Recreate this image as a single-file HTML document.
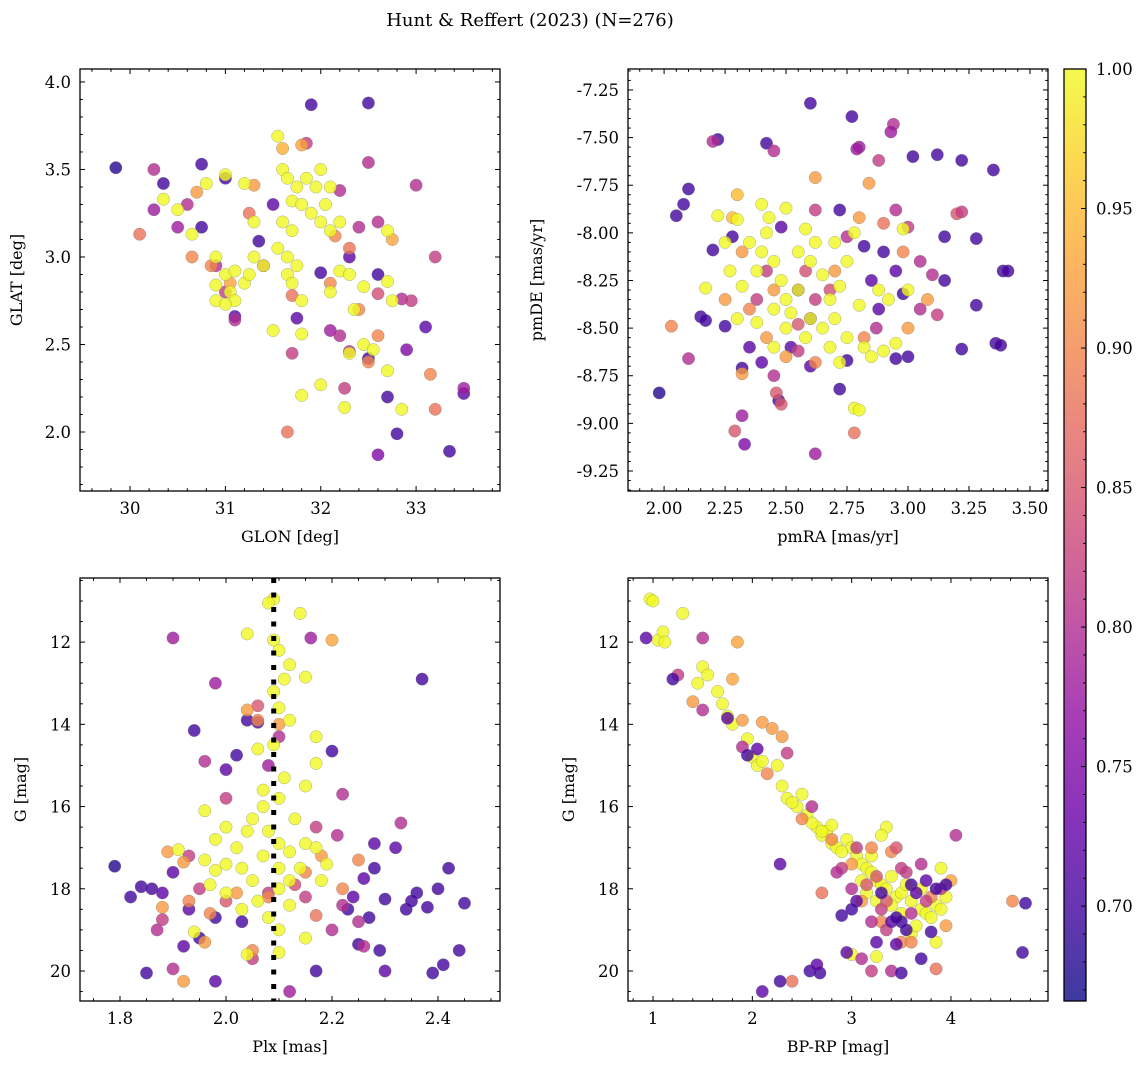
<!DOCTYPE html>
<html><head><meta charset="utf-8">
<style>
html,body{margin:0;padding:0;background:#fff;}
svg{display:block;font-family:"DejaVu Serif","Liberation Serif",serif;}
</style></head>
<body>
<svg id="fig" width="1148" height="1068" viewBox="0 0 1148 1068" xmlns="http://www.w3.org/2000/svg">
<text x="530" y="26" font-size="18" text-anchor="middle">Hunt &amp; Reffert (2023) (N=276)</text>
</svg>
<script>
// Panel 1: GLON vs GLAT
const p1x=[29.85,30.35,30.75,31.0,31.9,32.5,30.75,31.35,31.1,32.0,32.6,32.5,32.7,32.8,32.6,33.35,33.1,32.9,33.5,31.5,32.3,31.75,
30.25,30.25,30.5,30.6,31.85,32.5,32.2,33.0,32.4,32.6,31.1,31.0,32.2,32.3,32.25,32.85,32.95,32.6,31.7,33.2,33.5,31.4,32.1,30.9,
30.1,30.65,30.7,31.3,31.8,31.6,32.75,33.15,33.2,31.65,31.7,32.5,31.25,32.15,32.3,32.4,30.85,31.05,32.6,32.1,
31.55,31.6,31.65,31.75,31.85,31.95,32.0,31.7,31.8,31.9,32.0,32.1,31.6,31.7,31.55,31.65,31.75,31.65,31.7,31.8,31.8,31.5,31.8,32.0,32.25,32.85,30.35,30.5,30.8,31.0,31.2,30.65,30.9,31.0,31.05,31.1,30.9,31.1,31.2,31.3,31.25,31.4,32.1,32.2,32.3,32.35,32.45,32.45,32.3,32.55,32.7,32.75,32.7,32.7,32.05,32.1,32.2,30.9,31.0,31.3];
const p1y=[3.51,3.42,3.53,3.45,3.87,3.88,3.17,3.09,2.66,2.91,2.9,2.42,2.2,1.99,1.87,1.89,2.6,2.47,2.22,3.3,3.0,2.65,
3.5,3.27,3.17,3.3,3.65,3.54,3.38,3.41,3.17,3.2,2.64,2.8,2.55,2.46,2.25,2.76,2.75,2.79,2.45,3.0,2.25,2.95,2.58,2.95,
3.13,3.0,3.37,3.41,3.64,3.62,3.1,2.33,2.13,2.0,2.78,2.4,3.25,3.12,3.05,2.7,2.95,2.85,2.55,2.85,
3.69,3.5,3.45,3.4,3.45,3.4,3.5,3.32,3.3,3.25,3.2,3.15,3.2,3.15,3.05,3.0,2.95,2.9,2.85,2.75,2.56,2.58,2.21,2.27,2.14,2.13,3.33,3.27,3.42,3.47,3.42,3.13,3.0,2.9,2.8,2.75,2.75,2.92,2.85,3.0,2.9,2.95,2.8,2.92,2.9,2.7,2.83,2.5,2.45,2.47,2.35,2.75,2.86,3.15,3.3,3.4,3.2,2.84,2.73,3.2];
const p1c=[.68,.7,.7,.7,.7,.7,.7,.7,.72,.7,.7,.7,.7,.7,.75,.7,.72,.75,.72,.72,.72,.72,
.8,.78,.78,.8,.82,.8,.8,.8,.8,.8,.8,.82,.8,.8,.82,.8,.82,.84,.82,.82,.78,.8,.78,.8,
.88,.9,.92,.92,.93,.94,.93,.9,.88,.88,.88,.9,.88,.9,.88,.9,.9,.93,.9,.9,
1,1,1,1,1,1,1,1,1,1,1,1,1,1,1,1,1,1,1,1,1,1,1,1,1,1,1,1,1,1,1,1,1,1,1,1,1,1,1,1,1,1,1,1,1,1,1,1,1,1,1,1,1,1,1,1,1,1,1,1];
// Panel 2: pmRA vs pmDE
const p2x=[1.98,2.05,2.1,2.22,2.08,2.2,2.15,2.17,2.28,2.25,2.32,2.42,2.47,2.6,2.77,2.72,2.82,2.9,2.98,3.02,3.12,3.22,3.35,3.39,3.41,3.28,3.28,3.22,3.36,3.38,3.15,3.15,3.0,2.95,2.72,2.75,2.55,2.6,2.52,2.48,2.85,2.88,2.95,2.4,2.35,2.6,
2.2,2.1,2.32,2.33,2.62,2.45,2.94,2.93,2.8,2.79,2.62,2.75,2.88,2.95,3.0,3.05,3.1,3.12,3.2,3.22,2.48,2.46,2.55,2.58,2.42,2.38,2.55,2.62,2.68,2.87,3.05,2.45,2.29,
2.03,2.32,2.62,2.84,2.8,2.78,2.82,2.62,2.5,2.42,2.35,2.45,2.32,2.3,2.28,3.0,2.98,2.7,2.9,3.08,2.25,
2.17,2.22,2.27,2.3,2.35,2.38,2.4,2.42,2.43,2.45,2.48,2.5,2.52,2.55,2.58,2.6,2.62,2.65,2.68,2.7,2.72,2.75,2.78,2.8,2.82,2.85,2.9,2.95,2.98,2.78,2.8,2.75,2.65,2.5,2.45,2.38,2.3,2.32,2.25,2.55,2.6,2.7,2.88,2.92,3.0,2.45,2.58,2.68,2.72,2.4,2.5];
const p2y=[-8.84,-7.91,-7.77,-7.51,-7.85,-8.09,-8.44,-8.46,-8.02,-8.49,-8.71,-7.53,-8.88,-7.32,-7.39,-7.88,-8.07,-8.1,-8.32,-7.6,-7.59,-7.62,-7.67,-8.2,-8.2,-8.03,-8.38,-8.61,-8.58,-8.59,-8.02,-8.25,-8.65,-8.66,-8.82,-8.67,-8.3,-8.45,-8.6,-7.97,-8.25,-8.4,-8.2,-8.68,-8.6,-8.7,
-7.52,-8.66,-8.96,-9.11,-9.16,-7.57,-7.43,-7.47,-7.55,-7.56,-7.88,-8.02,-7.62,-7.88,-7.97,-8.15,-8.22,-8.43,-7.9,-7.89,-8.9,-8.84,-8.62,-8.2,-8.2,-8.35,-8.48,-8.35,-8.3,-8.5,-8.4,-8.75,-9.04,
-8.49,-8.74,-7.71,-7.74,-7.92,-9.05,-8.55,-8.68,-8.65,-8.55,-8.4,-8.3,-8.1,-7.8,-7.92,-8.5,-8.1,-8.2,-7.95,-8.35,-8.35,
-8.29,-7.91,-8.2,-7.93,-8.05,-8.2,-8.1,-8.0,-7.92,-8.15,-8.25,-8.35,-8.42,-8.1,-7.98,-8.15,-8.05,-8.22,-8.35,-8.45,-8.28,-8.15,-8.0,-8.38,-8.6,-8.65,-8.62,-8.58,-7.98,-8.92,-8.93,-8.55,-8.5,-8.5,-8.4,-8.47,-8.45,-8.28,-8.05,-8.3,-8.45,-8.05,-8.3,-8.35,-8.3,-8.6,-8.55,-8.6,-8.68,-7.85,-7.87];
const p2c=[.68,.7,.7,.7,.7,.7,.7,.7,.7,.7,.7,.7,.7,.7,.7,.7,.7,.7,.7,.7,.7,.7,.7,.7,.7,.7,.7,.7,.7,.7,.7,.7,.7,.7,.7,.7,.72,.72,.72,.72,.72,.72,.72,.72,.72,.72,
.8,.8,.78,.75,.78,.8,.8,.78,.78,.78,.82,.8,.82,.8,.82,.8,.8,.82,.85,.82,.85,.85,.82,.84,.82,.82,.85,.82,.84,.8,.8,.8,.85,
.9,.92,.92,.92,.92,.88,.9,.9,.92,.92,.9,.92,.92,.95,.95,.92,.9,.92,.88,.92,.92,
1,1,1,1,1,1,1,1,1,1,1,1,1,1,1,1,1,1,1,1,1,1,1,1,1,1,1,1,1,1,1,1,1,1,1,1,1,1,1,1,1,1,1,1,1,1,1,1,1,1,1];
// Panel 3: Plx vs G
const p3x=[1.79,1.82,1.84,1.86,1.85,1.92,1.95,1.98,1.98,2.0,2.02,2.04,2.06,2.03,2.17,2.2,2.23,2.25,2.27,2.29,2.3,2.28,2.32,2.34,2.35,2.36,2.37,2.38,2.4,2.41,2.42,2.44,2.45,2.39,2.26,2.24,2.3,2.28,1.94,1.9,1.88,1.93,
1.9,1.98,1.96,2.0,2.08,2.1,2.16,2.17,2.22,2.33,2.21,2.22,2.2,2.26,2.12,2.05,1.87,1.9,1.88,1.95,2.0,2.08,2.15,2.13,2.06,2.25,1.93,
1.92,2.04,2.06,2.2,2.1,2.18,2.22,2.25,2.17,2.02,1.97,1.92,1.89,1.88,1.96,2.05,2.08,2.15,1.93,
2.09,2.08,2.14,2.04,2.09,2.1,2.12,2.11,2.15,2.09,2.1,2.12,2.09,2.06,2.17,2.17,2.15,2.1,2.07,2.05,2.08,2.1,2.12,2.07,2.03,2.05,2.1,2.12,2.14,2.15,2.17,2.19,2.03,2.0,1.97,1.96,1.98,1.96,1.91,2.02,2.0,2.06,2.08,2.1,2.1,2.04,2.15,2.18,2.13,2.11,2.07,2.04,2.1,2.12,2.0,1.94,1.98];
const p3y=[17.45,18.2,17.95,18.0,20.05,19.4,19.2,20.25,18.7,15.1,14.75,13.9,13.95,18.8,20.0,14.65,18.5,19.35,18.7,19.5,20.0,17.5,17.0,18.5,18.3,18.1,12.9,18.45,18.0,19.85,17.5,19.5,18.35,20.05,17.75,18.2,18.25,16.9,14.15,17.6,18.1,18.5,
11.9,13.0,14.9,15.8,15.0,14.3,11.9,16.5,15.7,16.4,16.7,18.4,19.0,19.4,20.5,19.7,19.0,19.95,18.75,18.0,18.3,18.1,18.2,17.9,13.55,18.8,17.2,
20.25,13.65,13.9,11.95,14.0,17.2,18.0,17.3,18.65,18.1,18.6,17.35,17.1,18.45,19.3,19.5,18.2,17.6,18.3,
10.95,11.05,11.3,11.8,11.95,12.2,12.55,12.9,12.85,13.2,13.6,13.9,14.5,14.6,14.3,14.95,15.5,15.8,16.0,16.3,16.6,16.9,17.1,17.2,17.5,17.8,18.0,17.8,17.5,16.9,17.0,17.4,18.5,18.1,17.9,16.1,16.8,17.3,17.05,17.0,17.4,18.3,18.7,19.0,19.55,19.6,19.2,17.8,16.3,15.3,15.6,16.6,17.5,18.4,16.5,19.05,17.55];
const p3c=[.68,.7,.7,.7,.7,.72,.7,.72,.7,.72,.7,.7,.7,.7,.7,.7,.7,.7,.7,.7,.72,.7,.72,.7,.7,.7,.7,.7,.7,.7,.7,.7,.7,.7,.72,.72,.7,.72,.7,.72,.72,.72,
.78,.78,.8,.82,.78,.8,.78,.82,.8,.8,.8,.8,.8,.8,.78,.82,.8,.8,.82,.82,.85,.82,.82,.84,.85,.8,.82,
.92,.92,.9,.93,.92,.92,.9,.9,.88,.92,.9,.92,.92,.92,.92,.9,.9,.9,.9,
1,1,1,1,1,1,1,1,1,1,1,1,1,1,1,1,1,1,1,1,1,1,1,1,1,1,1,1,1,1,1,1,1,1,1,1,1,1,1,1,1,1,1,1,1,1,1,1,1,1,1,1,1,1,1,1,1];
const plxLine=2.09;
// Panel 4: BP-RP vs G
const p4x=[0.97,1.0,1.3,1.05,1.1,1.12,1.5,1.55,1.45,1.65,1.7,1.75,1.8,1.95,2.0,2.05,2.1,2.25,2.3,2.35,2.45,2.55,2.65,2.7,2.75,2.8,2.85,2.95,3.0,3.05,3.1,3.15,3.2,3.25,3.3,3.35,3.4,3.45,3.5,3.55,3.6,3.7,3.75,3.8,3.85,3.9,3.95,3.35,3.3,3.2,2.9,2.7,3.1,3.25,3.4,3.9,3.85,3.6,3.0,3.25,3.65,2.8,2.6,2.5,2.4,3.5,3.15,3.7,
1.4,1.85,1.8,1.9,2.1,2.2,2.3,2.15,2.5,2.7,2.8,3.0,3.2,3.3,3.5,3.8,3.95,4.0,4.62,2.4,3.6,3.85,3.1,3.4,
1.5,1.5,1.25,1.9,2.35,2.6,3.05,3.3,3.35,3.6,3.7,3.55,4.05,3.9,3.4,3.2,3.1,2.9,3.15,3.25,3.45,3.75,3.5,3.0,3.2,2.85,3.35,
0.93,1.2,1.75,1.95,2.05,2.28,2.28,2.1,2.58,2.68,2.65,2.95,3.5,3.45,3.25,3.4,3.5,3.55,3.7,3.8,3.75,3.6,3.95,3.05,3.0,2.9,4.75,4.72,3.85,3.3,3.65,3.45];
const p4y=[10.95,11.0,11.3,11.95,11.75,12.0,12.6,12.8,13.0,13.2,13.5,13.8,14.0,14.35,14.8,15.0,14.9,15.0,15.5,15.8,16.0,16.2,16.5,16.7,16.6,16.9,17.0,16.8,17.0,17.2,17.4,17.5,17.6,17.8,17.9,18.0,17.7,18.2,18.1,17.9,18.3,18.5,18.6,18.7,18.4,18.5,18.2,16.5,16.7,17.2,17.1,16.6,17.8,18.3,18.4,17.5,19.3,19.1,19.6,19.65,18.9,16.45,16.4,15.7,15.9,18.6,18.1,18.0,
13.45,12.0,12.9,13.9,13.95,14.1,14.3,15.2,16.3,18.1,16.8,17.4,17.0,18.8,19.3,18.2,18.9,17.8,18.3,20.25,19.3,19.95,18.3,17.1,
11.9,13.65,12.8,14.55,14.7,16.0,17.0,18.5,19.0,18.6,17.4,17.6,16.7,18.0,20.0,20.0,19.7,17.5,17.9,17.7,17.0,18.3,17.5,18.0,18.8,17.6,18.3,
11.9,12.9,13.85,14.75,14.6,17.4,20.25,20.5,20.0,20.05,19.85,19.55,20.05,19.35,19.3,18.8,18.8,19.0,19.7,19.05,17.8,17.9,17.9,18.3,18.5,18.65,18.35,19.55,18.0,18.1,18.1,18.7];
const p4c=[1,1,1,1,1,1,1,1,1,1,1,1,1,1,1,1,1,1,1,1,1,1,1,1,1,1,1,1,1,1,1,1,1,1,1,1,1,1,1,1,1,1,1,1,1,1,1,1,1,1,1,1,1,1,1,1,1,1,1,1,1,1,1,1,1,1,1,1,
.92,.93,.93,.92,.92,.92,.92,.9,.9,.88,.9,.92,.9,.9,.9,.9,.92,.93,.9,.88,.9,.88,.92,.9,
.8,.8,.82,.8,.82,.8,.82,.82,.82,.8,.8,.82,.8,.82,.8,.82,.8,.82,.85,.85,.85,.82,.82,.8,.8,.8,.85,
.72,.7,.72,.7,.72,.72,.7,.72,.7,.7,.72,.72,.7,.72,.72,.72,.7,.7,.7,.7,.72,.7,.7,.72,.7,.7,.7,.7,.7,.7,.72,.7];
const cbTicks=[0.70,0.75,0.80,0.85,0.90,0.95,1.00];
const vmin=0.666, vmax=1.0;

const NS='http://www.w3.org/2000/svg';
const svg=document.getElementById('fig');
function mk(tag,attrs,parent){const e=document.createElementNS(NS,tag);for(const k in attrs)e.setAttribute(k,attrs[k]);(parent||svg).appendChild(e);return e;}
const stops=[[13,8,135],[65,4,157],[106,0,168],[143,13,164],[177,42,144],[204,71,120],[225,100,98],[242,132,75],[252,166,54],[252,206,37],[240,249,33]];
function plasma(t){t=Math.max(0,Math.min(1,t));const f=t*10,i=Math.min(9,Math.floor(f)),r=f-i;const a=stops[i],b=stops[i+1];return 'rgb('+a.map((v,k)=>Math.round(v+(b[k]-v)*r)).join(',')+')';}
function col(v){return plasma((v-vmin)/(vmax-vmin));}

function panel(o){
  const {L,T,R,B,xmin,xmax,ymin,ymax,inv}=o;
  const sx=v=>L+(v-xmin)/(xmax-xmin)*(R-L);
  const sy=inv? v=>T+(v-ymin)/(ymax-ymin)*(B-T) : v=>B-(v-ymin)/(ymax-ymin)*(B-T);
  const g=mk('g',{});
  
  
  const cid='clip-'+o.name;
  const cp=mk('clipPath',{id:cid},g);mk('rect',{x:L,y:T,width:R-L,height:B-T},cp);
  const pts=mk('g',{'clip-path':'url(#'+cid+')'},g);
  
  
  for(let i=0;i<o.xs.length;i++){
    const c=mk('circle',{cx:sx(o.xs[i]).toFixed(1),cy:sy(o.ys[i]).toFixed(1),r:6.2,fill:col(o.cs[i]),'fill-opacity':0.8,stroke:'#777','stroke-opacity':0.6,'stroke-width':0.5},pts);
    
    
  }
  if(o.vline!==undefined){
    const l=mk('line',{x1:sx(o.vline),x2:sx(o.vline),y1:T,y2:B,stroke:'#000','stroke-width':5,'stroke-dasharray':'5,9.5'},pts);
    
    
  }
  const fr=mk('rect',{x:L,y:T,width:R-L,height:B-T,fill:'none',stroke:'#000','stroke-width':1.3},g);
  
  
  const eps=1e-9;
  const n0=Math.ceil(xmin/o.xmin_step-eps),n1=Math.floor(xmax/o.xmin_step+eps);
  for(let n=n0;n<=n1;n++){const v=n*o.xmin_step;const maj=Math.abs(v/o.xmaj-Math.round(v/o.xmaj))<1e-6;const len=maj?5:2.8;const x=sx(v);
    mk('line',{x1:x,x2:x,y1:B,y2:B-len,stroke:'#000','stroke-width':1},g);mk('line',{x1:x,x2:x,y1:T,y2:T+len,stroke:'#000','stroke-width':1},g);
    if(maj){const t=mk('text',{x:x,y:B+23,'font-size':16.5,'text-anchor':'middle'},g);t.textContent=v.toFixed(o.xdec);}}
  const m0=Math.ceil(ymin/o.ymin_step-eps),m1=Math.floor(ymax/o.ymin_step+eps);
  for(let n=m0;n<=m1;n++){const v=n*o.ymin_step;const maj=Math.abs(v/o.ymaj-Math.round(v/o.ymaj))<1e-6;const len=maj?5:2.8;const y=sy(v);
    mk('line',{x1:L,x2:L+len,y1:y,y2:y,stroke:'#000','stroke-width':1},g);mk('line',{x1:R,x2:R-len,y1:y,y2:y,stroke:'#000','stroke-width':1},g);
    if(maj){const t=mk('text',{x:L-9,y:y+6,'font-size':16.5,'text-anchor':'end'},g);t.textContent=(Math.abs(v)<1e-9?0:v).toFixed(o.ydec);}}
  const xt=mk('text',{x:(L+R)/2,y:B+51,'font-size':16,'text-anchor':'middle'},g);xt.textContent=o.xlabel;
  
  const yx=L-o.ylabOff,yy=(T+B)/2;
  const yt=mk('text',{x:yx,y:yy,'font-size':16,'text-anchor':'middle',transform:'rotate(-90 '+yx+' '+yy+')'},g);yt.textContent=o.ylabel;
  
}
panel({name:'glon-glat-panel',L:80,T:69,R:500,B:491,xmin:29.475,xmax:33.88,ymin:1.663,ymax:4.074,xmaj:1,xmin_step:0.2,ymaj:0.5,ymin_step:0.1,xdec:0,ydec:1,xs:p1x,ys:p1y,cs:p1c,xlabel:'GLON [deg]',ylabel:'GLAT [deg]',ylabOff:58});
panel({name:'pm-panel',L:628,T:69,R:1048,B:491,xmin:1.852,xmax:3.574,ymin:-9.355,ymax:-7.14,xmaj:0.25,xmin_step:0.05,ymaj:0.25,ymin_step:0.05,xdec:2,ydec:2,xs:p2x,ys:p2y,cs:p2c,xlabel:'pmRA [mas/yr]',ylabel:'pmDE [mas/yr]',ylabOff:86});
panel({name:'plx-g-panel',L:80,T:578,R:500,B:1001,xmin:1.7245,xmax:2.517,ymin:10.44,ymax:20.73,inv:true,xmaj:0.2,xmin_step:0.05,ymaj:2,ymin_step:0.5,xdec:1,ydec:0,xs:p3x,ys:p3y,cs:p3c,vline:plxLine,xlabel:'Plx [mas]',ylabel:'G [mag]',ylabOff:54});
panel({name:'cmd-panel',L:628,T:578,R:1048,B:1001,xmin:0.748,xmax:4.977,ymin:10.44,ymax:20.73,inv:true,xmaj:1,xmin_step:0.2,ymaj:2,ymin_step:0.5,xdec:0,ydec:0,xs:p4x,ys:p4y,cs:p4c,xlabel:'BP-RP [mag]',ylabel:'G [mag]',ylabOff:54});

(function(){
  const L=1064,R=1086,T=69,B=1001;
  const g=mk('g',{});
  
  
  const defs=mk('defs',{},g);
  const lg=mk('linearGradient',{id:'cbg',x1:0,y1:1,x2:0,y2:0},defs);
  for(let i=0;i<=20;i++){mk('stop',{offset:i/20,'stop-color':plasma(i/20),'stop-opacity':0.8},lg);}
  mk('rect',{x:L,y:T,width:R-L,height:B-T,fill:'url(#cbg)',stroke:'#000','stroke-width':1.3},g);
  const sy=v=>B-(v-vmin)/(vmax-vmin)*(B-T);
  for(let n=Math.ceil(vmin*100);n<=100;n++){const v=n/100;const y=sy(v);const maj=n%5===0;
    mk('line',{x1:R,x2:R-(maj?5:2.8),y1:y,y2:y,stroke:'#000','stroke-width':1},g);}
  cbTicks.forEach(v=>{const t=mk('text',{x:R+10,y:sy(v)+6,'font-size':16.5},g);t.textContent=v.toFixed(2);
    });
})();
</script>
</body></html>
